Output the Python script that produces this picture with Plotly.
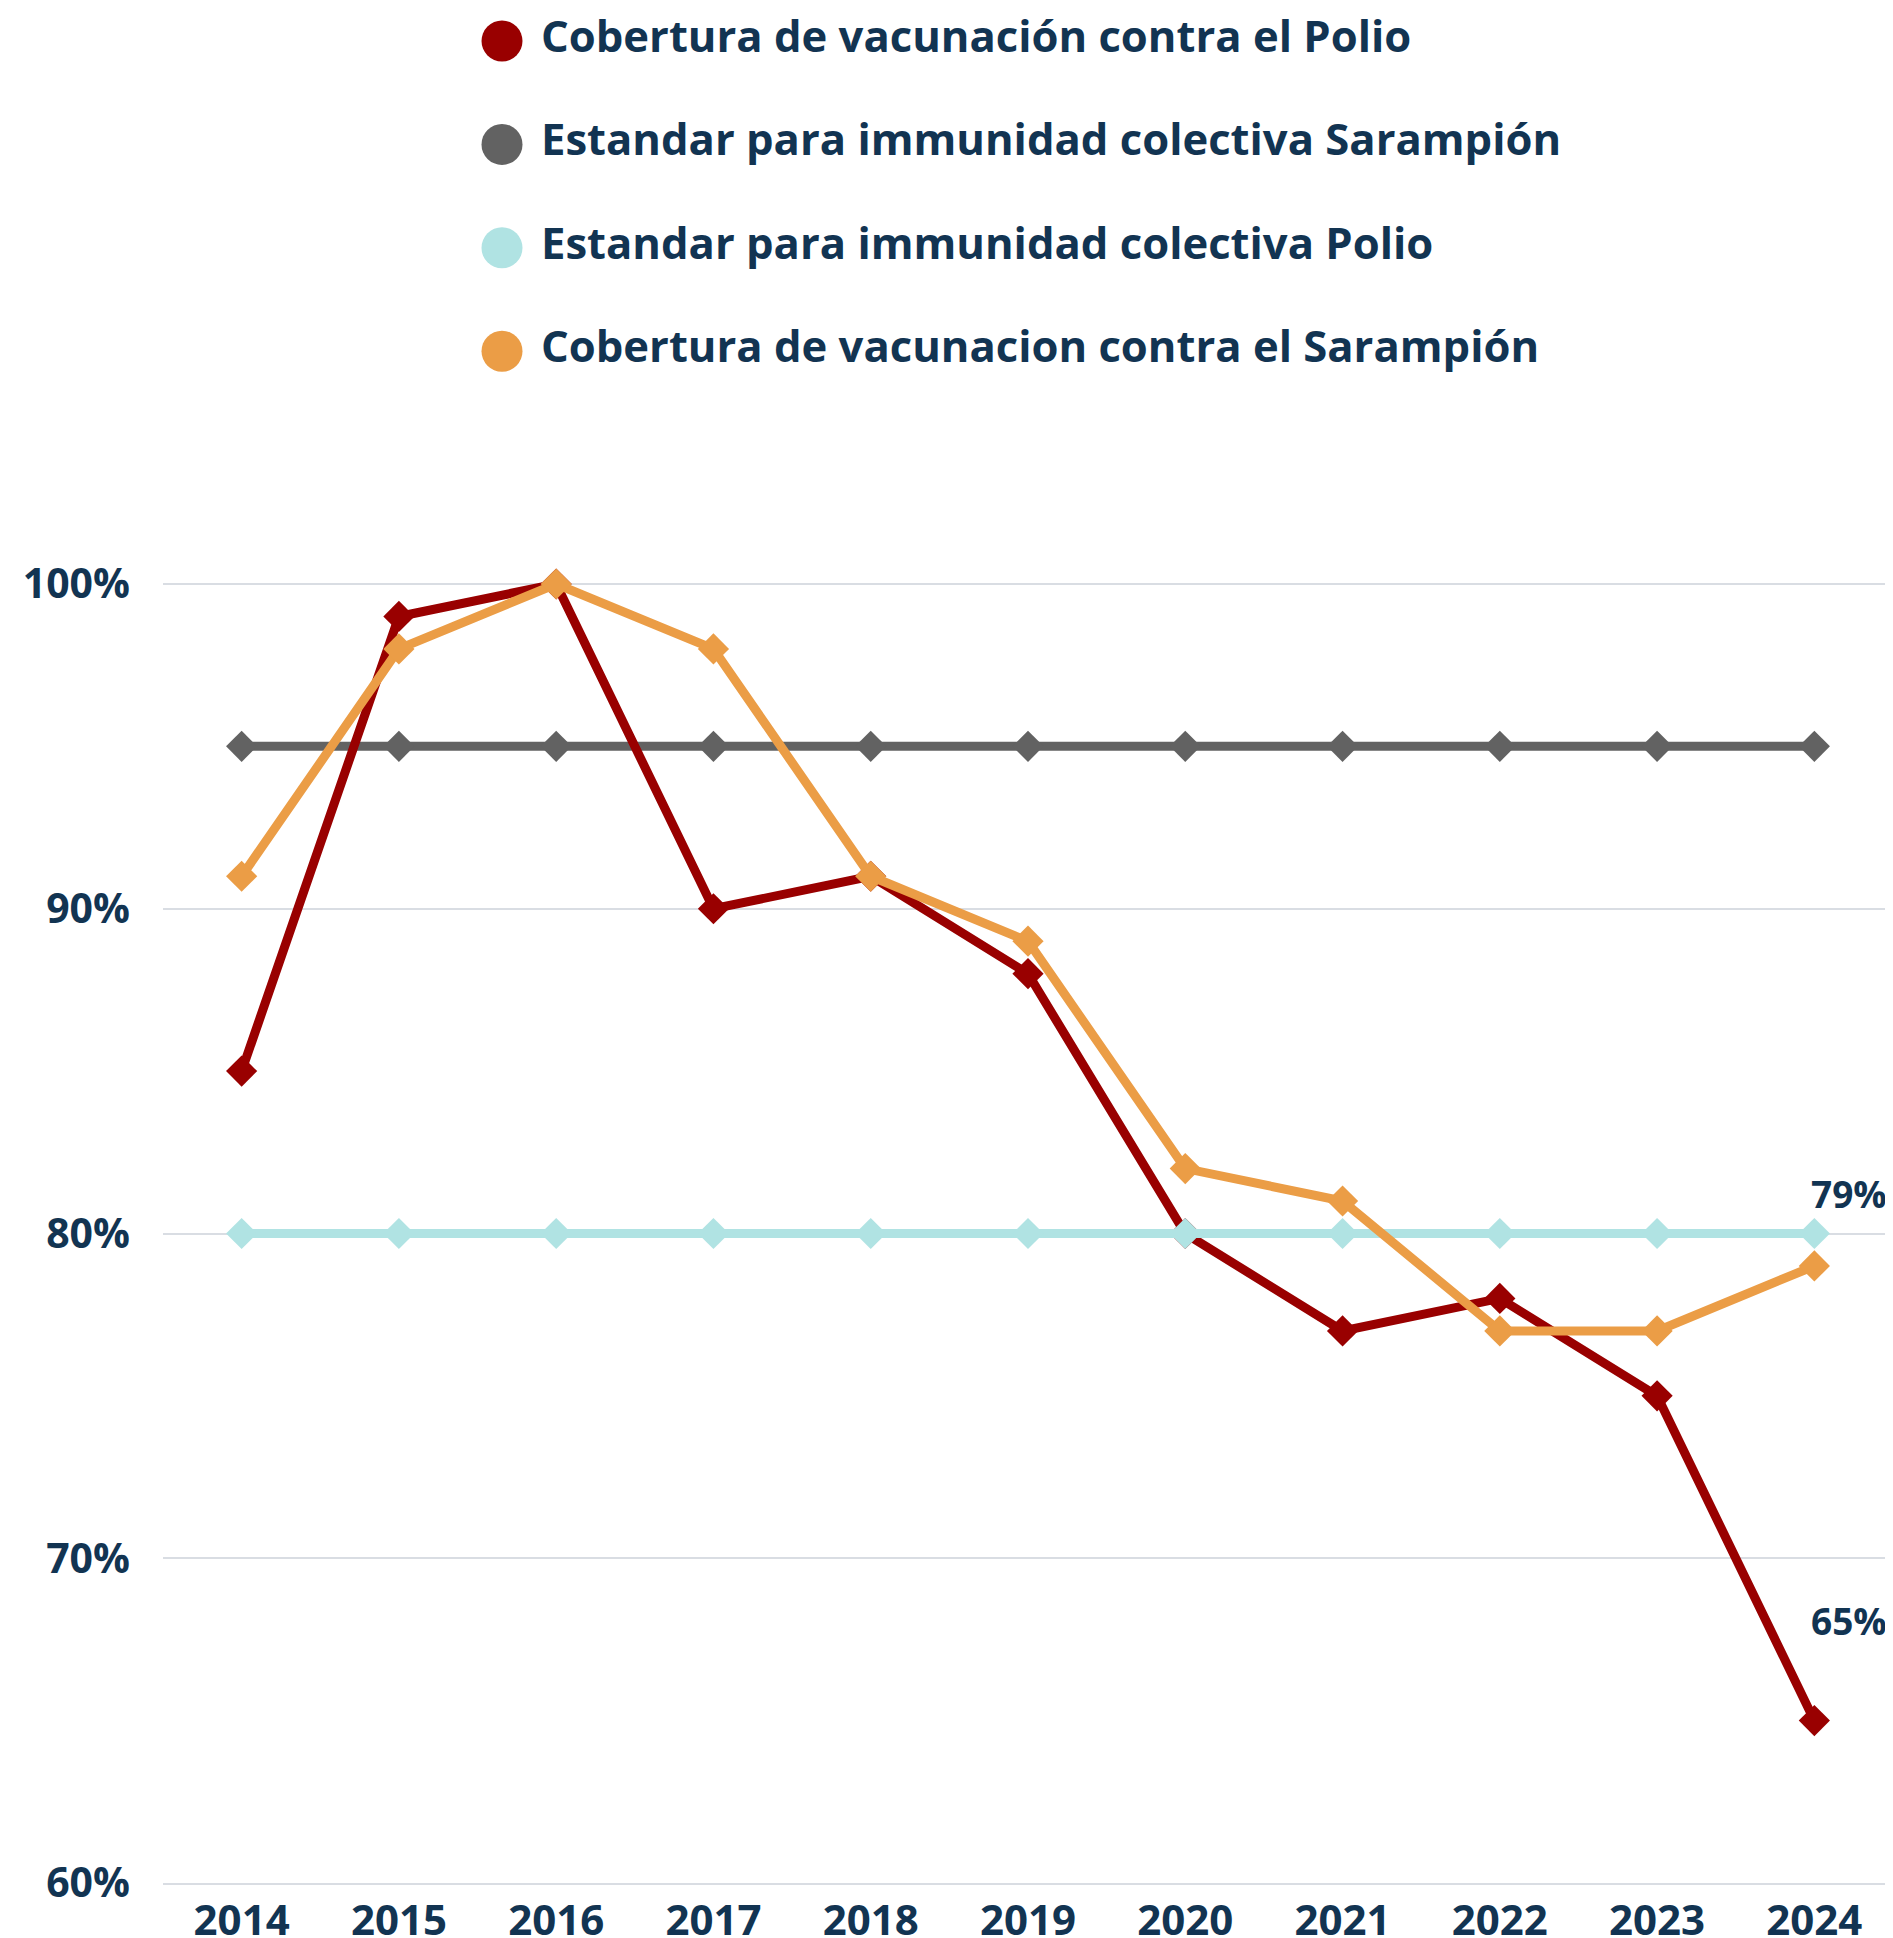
import plotly.graph_objects as go

years = ["2014", "2015", "2016", "2017", "2018", "2019", "2020", "2021", "2022", "2023", "2024"]
polio_cov = [85, 99, 100, 90, 91, 88, 80, 77, 78, 75, 65]
saramp_std = [95] * 11
polio_std = [80] * 11
saramp_cov = [91, 98, 100, 98, 91, 89, 82, 81, 77, 77, 79]

series_names = [
    "Cobertura de vacunación contra el Polio",
    "Estandar para immunidad colectiva Sarampión",
    "Estandar para immunidad colectiva Polio",
    "Cobertura de vacunacion contra el Sarampión",
]
series_colors = ["#990000", "#626262", "#b0e3e3", "#eb9d46"]
y_ticks = [60, 70, 80, 90, 100]
y_tick_labels = ["60%", "70%", "80%", "90%", "100%"]

NAVY = "#123452"
FONT = "Open Sans"

# ---- layout geometry (figure pixels; page body adds an 8px offset) ----
W, H = 1885, 1930
ml, mr, mt, mb = 155, 0, 0, 55
ph = H - mt - mb
pw = W - ml - mr
y_top_px = 576            # pixel of the 100% line
y_min, y_max = 60, 100.1
px_per_unit = (ph - y_top_px) / (100 - y_min)
dom_top = (ph - (y_top_px - (y_max - 100) * px_per_unit)) / ph

leg_h = 400
row_sp = 103.4
first_row = 33
circle_x = 339
text_x = 378

fig = go.Figure()

draw_order = [(1, saramp_std), (0, polio_cov), (2, polio_std), (3, saramp_cov)]
for idx, vals in draw_order:
    fig.add_trace(go.Scatter(
        x=years, y=vals, mode="lines+markers", name=series_names[idx],
        line=dict(color=series_colors[idx], width=9),
        marker=dict(symbol="diamond", size=24, color=series_colors[idx]),
        cliponaxis=False, showlegend=False, hoverinfo="x+y",
    ))

# custom legend drawn as scatter traces on an overlay axis
rows = list(range(len(series_names)))
fig.add_trace(go.Scatter(
    x=[circle_x] * len(series_names), y=rows, mode="markers",
    marker=dict(symbol="circle", size=41, color=series_colors),
    xaxis="x2", yaxis="y2", showlegend=False, hoverinfo="skip", cliponaxis=False,
))
fig.add_trace(go.Scatter(
    x=[text_x] * len(series_names), y=rows, mode="text",
    text=series_names, textposition="middle right",
    textfont=dict(family=FONT, size=43.6, color=NAVY, weight=700),
    xaxis="x2", yaxis="y2", showlegend=False, hoverinfo="skip", cliponaxis=False,
))

# end labels (category axis -> use category index)
last = len(years) - 1
fig.add_annotation(x=last, y=saramp_cov[-1], text=f"{saramp_cov[-1]}%",
                   showarrow=False, xshift=35, yshift=72,
                   font=dict(family=FONT, size=37, color=NAVY, weight=700))
fig.add_annotation(x=last, y=polio_cov[-1], text=f"{polio_cov[-1]}%",
                   showarrow=False, xshift=35, yshift=100,
                   font=dict(family=FONT, size=37, color=NAVY, weight=700))

fig.update_layout(
    width=W, height=H,
    margin=dict(t=mt, b=mb, l=ml, r=mr, pad=0, autoexpand=False),
    plot_bgcolor="white", paper_bgcolor="white",
    font=dict(family=FONT, color=NAVY),
    xaxis=dict(type="category", range=[-0.5, 10.5], showgrid=False,
               showline=True, linecolor="#d9dde3", linewidth=1.5,
               tickfont=dict(family=FONT, size=42, color=NAVY, weight=700),
               ticks="", ticklabelstandoff=0, domain=[0, 1], automargin=False),
    yaxis=dict(range=[y_min, y_max], tickvals=y_ticks, ticktext=y_tick_labels,
               domain=[0, dom_top], showgrid=True, gridcolor="#d9dde3", gridwidth=1.5,
               zeroline=False, showline=False, automargin=False,
               tickfont=dict(family=FONT, size=41, color=NAVY, weight=700),
               ticks="", ticklabelstandoff=32),
    xaxis2=dict(domain=[0, 1], range=[0, pw], visible=False,
                anchor="y2", fixedrange=True, automargin=False),
    yaxis2=dict(domain=[(ph - leg_h) / ph, 1],
                range=[(leg_h - first_row) / row_sp, -first_row / row_sp],
                visible=False, anchor="x2", fixedrange=True, automargin=False),
)

fig.write_html("out.html")
